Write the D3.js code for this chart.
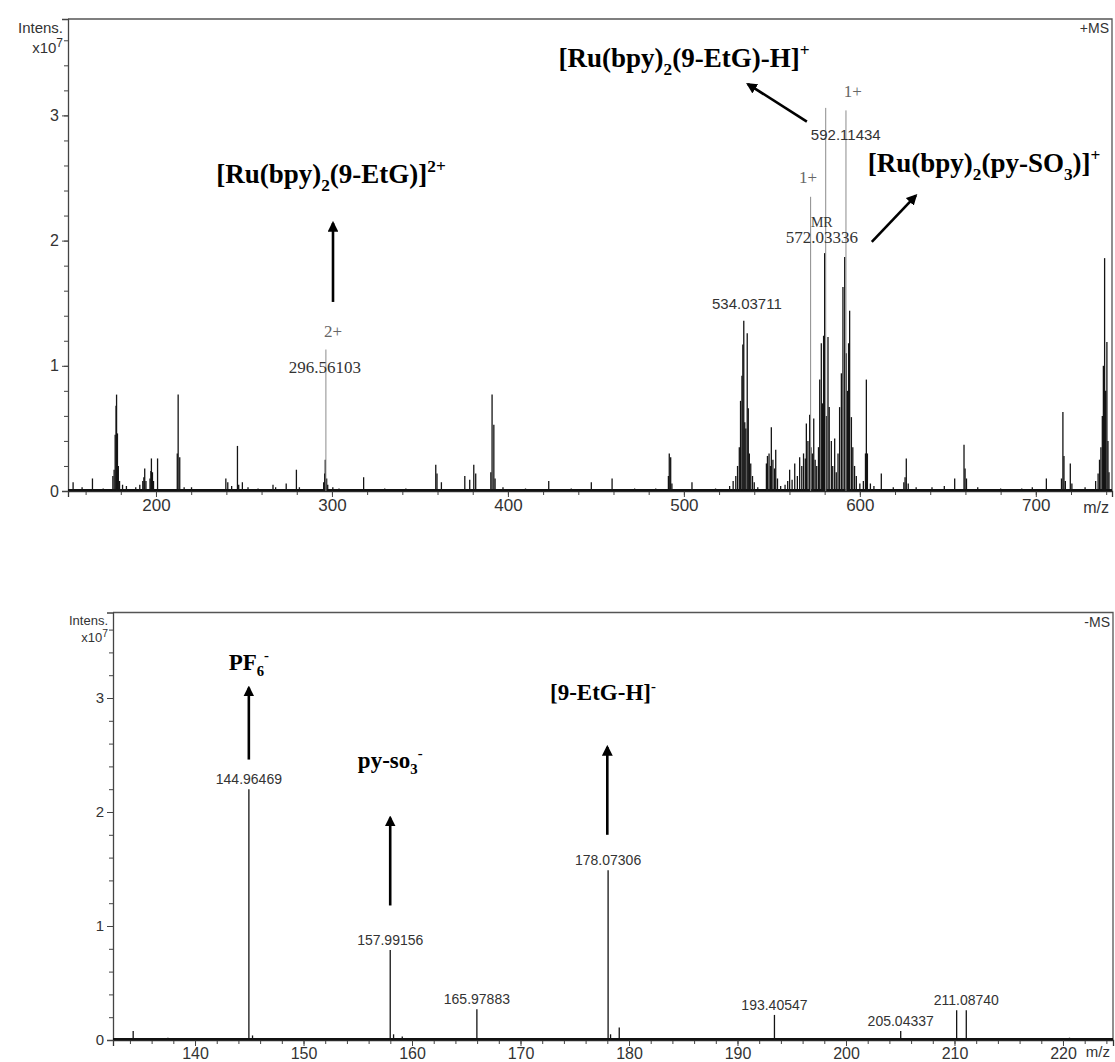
<!DOCTYPE html>
<html><head><meta charset="utf-8">
<script src="https://cdn.jsdelivr.net/npm/d3@7"></script>
<style>body{margin:0;background:#fff}</style>
</head><body>
<svg id="chart" width="1115" height="1062"></svg>
<script>
// ---------- positive-mode spectrum (+MS), intensities in units of 1e7 ----------
const posPeaks = [
  [152.9,0.07],[158,0.03],[163.9,0.10],[170,0.02],[175.5,0.12],[176.2,0.17],[176.8,0.45],[177.3,0.68],[177.6,0.77],
  [178.1,0.46],[178.6,0.2],[179.3,0.08],[181,0.05],[183.2,0.04],[188.5,0.03],[190.8,0.05],[192.5,0.08],[193.1,0.11],
  [193.6,0.18],[194.3,0.08],[196.6,0.1],[197.1,0.16],[197.4,0.26],[198,0.15],[198.6,0.08],[200.9,0.26],[212.1,0.3],
  [212.6,0.77],[213.5,0.27],[216,0.03],[220.2,0.03],[239.7,0.1],[240.8,0.07],[243,0.04],[246.3,0.36],[247,0.05],
  [249.1,0.07],[252.3,0.03],[258,0.02],[266.5,0.05],[268,0.03],[274,0.06],[279.8,0.17],[281.5,0.03],[295.3,0.07],
  [295.9,0.14],[296.2,0.25],[297,0.1],[297.6,0.05],[300.5,0.03],[304,0.02],[318,0.11],[330,0.02],[342,0.02],
  [359,0.21],[359.7,0.14],[362.2,0.07],[375.5,0.12],[378.3,0.09],[380.6,0.21],[381.7,0.14],[390.3,0.15],[391,0.77],
  [392,0.53],[392.7,0.1],[397.2,0.03],[410,0.02],[423.2,0.08],[436,0.02],[447.4,0.07],[459.2,0.1],[472,0.02],
  [484,0.02],[491.2,0.12],[491.7,0.3],[492.5,0.27],[493.2,0.06],[504.6,0.07],[518,0.02],[526,0.04],[528,0.08],
  [529.5,0.12],[530.5,0.2],[531.5,0.35],[532.2,0.72],[533,0.92],[533.5,1.17],[534.04,1.36],[534.6,0.55],[535.2,0.5],
  [536,1.26],[536.6,0.66],[537.2,0.3],[538,0.22],[539,0.12],[540,0.07],[542,0.03],[546.9,0.22],[547.5,0.28],
  [548.4,0.3],[549.2,0.2],[549.7,0.51],[550.6,0.25],[551.5,0.18],[552.2,0.33],[553.2,0.1],[555,0.04],[557.5,0.05],
  [559,0.08],[560.1,0.17],[561.5,0.09],[563,0.22],[564.5,0.12],[565.8,0.27],[567,0.2],[568,0.3],[569,0.26],
  [569.6,0.54],[570.5,0.4],[571.5,0.61],[572.2,0.35],[573,0.3],[573.8,0.58],[574.6,0.25],[575.5,0.2],[576.5,0.35],
  [577.2,0.89],[578.1,1.18],[578.8,0.7],[579.4,1.24],[580,1.9],[580.9,0.6],[581.9,1.23],[582.6,0.67],[583.8,0.4],
  [584.6,0.2],[585.7,0.42],[586.6,0.15],[587.6,0.3],[588.5,0.67],[589.5,0.94],[590.4,1.63],[591.4,1.87],[592.3,1.1],
  [593,0.8],[593.6,1.18],[594.2,1.44],[595.2,0.59],[596,0.35],[597,0.2],[598,0.12],[600,0.06],[602,0.08],
  [603.2,0.3],[603.7,0.89],[604.3,0.3],[606,0.06],[608,0.04],[612.2,0.14],[619,0.03],[625,0.07],[625.7,0.11],
  [626.4,0.26],[627.5,0.06],[632,0.03],[641,0.03],[648,0.04],[653.9,0.1],[659.2,0.37],[659.8,0.18],[660.6,0.1],
  [667,0.03],[680,0.02],[692,0.02],[698,0.03],[706,0.1],[714.6,0.1],[715.4,0.63],[716,0.28],[716.8,0.08],
  [719.6,0.22],[720.5,0.06],[728,0.03],[734,0.08],[735.4,0.14],[736.2,0.25],[737,0.35],[737.8,0.6],[738.4,1.0],
  [739.1,1.86],[739.7,0.8],[740.4,1.19],[741,0.4],[741.6,0.15]
];
// narrow apex traces that rise above their isotope clusters
const posApex = [[296.56,1.13],[572.03,2.35],[580.6,3.06],[592.11,3.04]];

// ---------- negative-mode spectrum (-MS) ----------
const negPeaks = [
  [134.3,0.08],[137.5,0.02],[144.96469,2.2],[145.3,0.04],[157.99156,0.79],[158.3,0.05],[159.1,0.03],
  [165.97883,0.27],[178.07306,1.49],[178.3,0.05],[179.1,0.11],[193.40547,0.22],[205.04337,0.08],
  [210.2,0.26],[211.0874,0.26],[220.6,0.02]
];

// axis ticks
const posMajorX = [200,300,400,500,600,700];
const posMinorX = d3.range(160, 741, 20);
const negMajorX = [140,150,160,170,180,190,200,210,220];
const negMinorX = d3.range(134, 225, 2);
const majorY = [0,1,2,3];
const minorY = d3.range(0, 3.7, 0.2);

// peak annotations: [m/z anchor, intensity anchor, text, font family, size]
const posPeakText = [
  [300.6,1.23,"2+","serif",17],
  [296.0,0.94,"296.56103","serif",17],
  [535.8,1.45,"534.03711","sans",15],
  [596.0,3.15,"1+","serif",17],
  [592.0,2.80,"592.11434","sans",15],
  [570.5,2.46,"1+","serif",17],
  [578.4,2.11,"MR","serif",14],
  [578.4,1.98,"572.03336","serif",17]
];
const negLabelled = [144.96469,157.99156,165.97883,178.07306,193.40547,205.04337,211.0874];
const negLabelText = ["144.96469","157.99156","165.97883","178.07306","193.40547","205.04337","211.08740"];

// ion assignments with arrows
const posIons = [
  {x:234.2, y:2.46, anchor:"start", parts:[["[Ru(bpy)"],["2","sub"],["(9-EtG)]"],["2+","sup"]], arrow:[[300.6,1.51],[300.6,2.14]]},
  {x:428.8, y:3.39, anchor:"start", parts:[["[Ru(bpy)"],["2","sub"],["(9-EtG)-H]"],["+","sup"]], arrow:[[569.9,2.95],[536.4,3.25]]},
  {x:604.5, y:2.55, anchor:"start", parts:[["[Ru(bpy)"],["2","sub"],["(py-SO"],["3","sub"],[")]"],["+","sup"]], arrow:[[606.8,1.99],[631.8,2.36]]}
];
const negIons = [
  {x:144.96, y:3.25, anchor:"middle", parts:[["PF"],["6","sub"],["-","sup"]], arrow:[[144.96,2.46],[144.96,3.09]]},
  {x:157.99, y:2.39, anchor:"middle", parts:[["py-so"],["3","sub"],["-","sup"]], arrow:[[157.99,1.18],[157.99,1.95]]},
  {x:177.6, y:2.98, anchor:"middle", parts:[["[9-EtG-H]"],["-","sup"]], arrow:[[178.0,1.8],[178.0,2.57]]}
];

const svg = d3.select("#chart");
const SANS = "'Liberation Sans', Arial, sans-serif";
const SERIF = "'Liberation Serif', 'Times New Roman', serif";

svg.append("defs").append("marker")
  .attr("id","head").attr("viewBox","0 0 10 10").attr("refX",8).attr("refY",5)
  .attr("markerWidth",4.2).attr("markerHeight",4.2).attr("orient","auto")
  .append("path").attr("d","M0,0 L10,5 L0,10 z").attr("fill","#000");

function richText(g, x, y, parts, size, anchor) {
  const t = g.append("text").attr("x", x).attr("y", y)
    .attr("font-family", SERIF).attr("font-weight", "bold")
    .attr("font-size", size).attr("text-anchor", anchor).attr("fill", "#000");
  let shift = 0;
  parts.forEach(([s, kind]) => {
    const target = kind === "sub" ? size * 0.3 : kind === "sup" ? -size * 0.4 : 0;
    t.append("tspan").attr("dy", target - shift)
      .attr("font-size", kind ? size * 0.64 : size).text(s);
    shift = target;
  });
}

function panel(cfg) {
  const {x, y, peaks, apex, majorX, minorX, sign, xFont, yFont, intensFont, mzDy} = cfg;
  const g = svg.append("g");
  const [x0, x1] = x.range(), [y0, y1] = y.range();

  // frame (top and right edges)
  g.append("path").attr("d", `M${x0},${y1} H${x1} V${y0}`)
    .attr("fill","none").attr("stroke","#555").attr("stroke-width",1.3);

  // minor + major ticks
  g.append("g").attr("transform", `translate(0,${y0})`)
    .call(d3.axisBottom(x).tickValues(minorX).tickSize(4).tickFormat(""))
    .call(a => a.select(".domain").remove());
  const xa = g.append("g").attr("transform", `translate(0,${y0})`)
    .call(d3.axisBottom(x).tickValues(majorX).tickSize(6).tickPadding(2).tickFormat(d3.format("d")))
    .call(a => a.select(".domain").attr("stroke","#333").attr("stroke-width",1.3));
  xa.selectAll(".tick text").attr("font-size", xFont);
  g.append("g").attr("transform", `translate(${x0},0)`)
    .call(d3.axisLeft(y).tickValues(minorY).tickSize(4).tickFormat(""))
    .call(a => a.select(".domain").remove());
  const ya = g.append("g").attr("transform", `translate(${x0},0)`)
    .call(d3.axisLeft(y).tickValues(majorY).tickSize(6).tickPadding(3).tickFormat(d3.format("d")))
    .call(a => a.select(".domain").attr("stroke","#444").attr("stroke-width",1.3));
  ya.selectAll(".tick text").attr("font-size", yFont);
  g.selectAll(".tick line").attr("stroke","#444");
  g.selectAll(".tick text").attr("font-family", SANS).attr("fill","#333");

  // spectrum baseline and sticks
  g.append("line").attr("x1", x0).attr("x2", x1).attr("y1", y(0) - 0.8).attr("y2", y(0) - 0.8)
    .attr("stroke","#111").attr("stroke-width",2.2);
  g.append("g").selectAll("line").data(peaks).join("line")
    .attr("x1", d => x(d[0])).attr("x2", d => x(d[0]))
    .attr("y1", y(0)).attr("y2", d => y(d[1]))
    .attr("stroke","#141414").attr("stroke-width",1.3);
  if (apex) {
    g.append("g").selectAll("line").data(apex).join("line")
      .attr("x1", d => x(d[0])).attr("x2", d => x(d[0]))
      .attr("y1", y(0)).attr("y2", d => y(d[1]))
      .attr("stroke","#8c8c8c").attr("stroke-width",1);
  }

  // axis captions
  g.append("text").attr("x", x0 - 5).attr("y", y1 + intensFont * 0.95)
    .attr("text-anchor","end").attr("font-family",SANS).attr("font-size",intensFont).attr("fill","#333").text("Intens.");
  const xt = g.append("text").attr("x", x0 - 5).attr("y", y1 + intensFont * 2.25)
    .attr("text-anchor","end").attr("font-family",SANS).attr("font-size",intensFont).attr("fill","#333");
  xt.append("tspan").text("x10");
  xt.append("tspan").attr("dy", -intensFont * 0.4).attr("font-size", intensFont * 0.8).text("7");
  g.append("text").attr("x", x1 - 3).attr("y", y1 + 14)
    .attr("text-anchor","end").attr("font-family",SANS).attr("font-size",14).attr("fill","#333").text(sign);
  g.append("text").attr("x", x1 - 3).attr("y", y0 + mzDy)
    .attr("text-anchor","end").attr("font-family",SANS).attr("font-size",xFont - 1).attr("fill","#333").text("m/z");
  return g;
}

// ----- +MS panel -----
const xPos = d3.scaleLinear().domain([150, 743.3]).range([68, 1112]);
const yPos = d3.scaleLinear().domain([0, 3.77]).range([491, 19]);
const gPos = panel({x:xPos, y:yPos, peaks:posPeaks, apex:posApex, majorX:posMajorX, minorX:posMinorX,
  sign:"+MS", xFont:17, yFont:16, intensFont:15, mzDy:22});

gPos.append("g").selectAll("text").data(posPeakText).join("text")
  .attr("x", d => xPos(d[0])).attr("y", d => yPos(d[1]))
  .attr("text-anchor","middle")
  .attr("font-family", d => d[3] === "serif" ? SERIF : SANS)
  .attr("font-size", d => d[4])
  .attr("fill", d => d[2].endsWith("+") ? "#666" : "#333")
  .text(d => d[2]);

posIons.forEach(ion => {
  richText(gPos, xPos(ion.x), yPos(ion.y), ion.parts, 27, ion.anchor);
  gPos.append("line")
    .attr("x1", xPos(ion.arrow[0][0])).attr("y1", yPos(ion.arrow[0][1]))
    .attr("x2", xPos(ion.arrow[1][0])).attr("y2", yPos(ion.arrow[1][1]))
    .attr("stroke","#000").attr("stroke-width",2.6).attr("marker-end","url(#head)");
});

// ----- -MS panel -----
const xNeg = d3.scaleLinear().domain([132.44, 224.61]).range([113, 1113]);
const yNeg = d3.scaleLinear().domain([0, 3.75]).range([1040, 612.5]);
const gNeg = panel({x:xNeg, y:yNeg, peaks:negPeaks, apex:null, majorX:negMajorX, minorX:negMinorX,
  sign:"-MS", xFont:16, yFont:15, intensFont:13, mzDy:17});

const negLookup = new Map(negPeaks);
gNeg.append("g").selectAll("text").data(negLabelled).join("text")
  .attr("x", d => xNeg(d)).attr("y", d => yNeg(negLookup.get(d)) - 5)
  .attr("text-anchor","middle").attr("font-family",SANS).attr("font-size",14).attr("fill","#333")
  .text((d, i) => negLabelText[i]);

negIons.forEach(ion => {
  richText(gNeg, xNeg(ion.x), yNeg(ion.y), ion.parts, 23, ion.anchor);
  gNeg.append("line")
    .attr("x1", xNeg(ion.arrow[0][0])).attr("y1", yNeg(ion.arrow[0][1]))
    .attr("x2", xNeg(ion.arrow[1][0])).attr("y2", yNeg(ion.arrow[1][1]))
    .attr("stroke","#000").attr("stroke-width",2.6).attr("marker-end","url(#head)");
});
</script>
</body></html>
